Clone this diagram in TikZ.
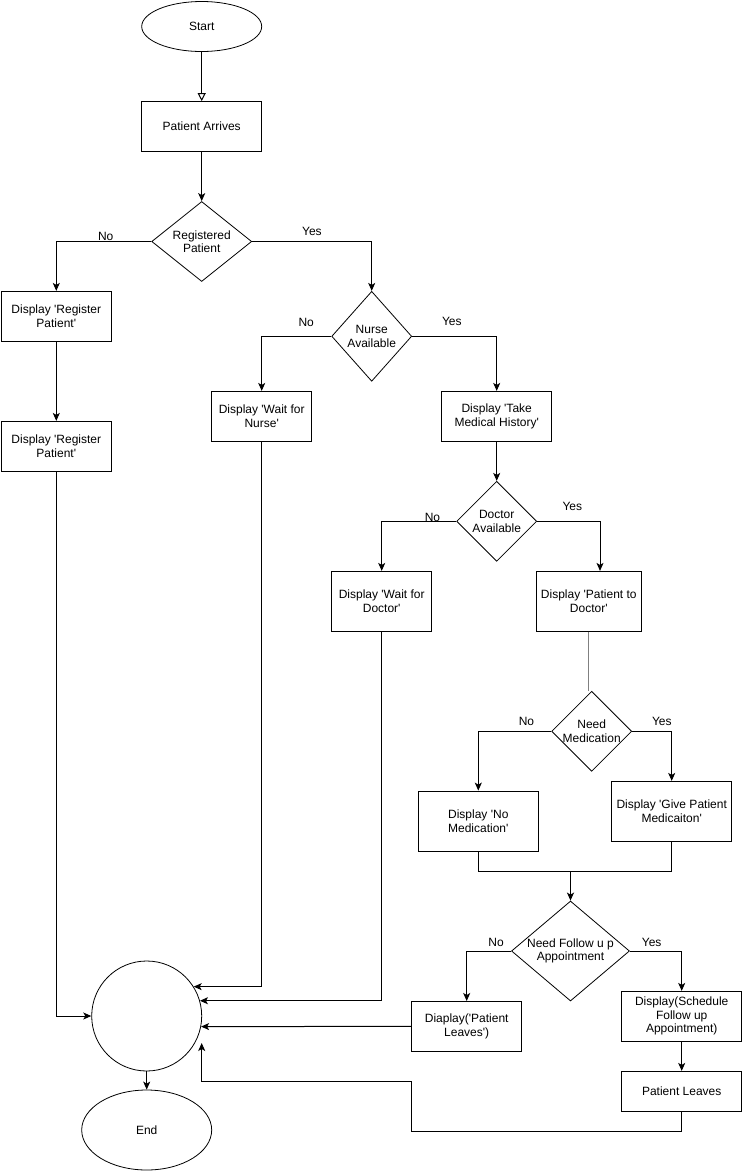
\documentclass[tikz,border=0pt]{standalone}
\usepackage{fontspec}
\setmainfont{Liberation Sans}[Ligatures=TeXOff]
\usepackage{tikz}
\usetikzlibrary{arrows.meta, shapes.geometric}

\begin{document}
\begin{tikzpicture}[
  x=1pt, y=-1pt,
  every node/.style={draw, line width=0.8pt, inner sep=0pt, align=center,
    font=\fontsize{12}{13.5}\selectfont},
  box/.style={rectangle, minimum width=120pt, minimum height=50pt},
  term/.style={ellipse, minimum width=120pt, minimum height=50pt},
  decide/.style={diamond, minimum width=80pt, minimum height=80pt},
  lbl/.style={draw=none},
  line width=1pt, ->, >={Stealth[length=8pt,width=7pt,inset=2pt]}
]
  \useasboundingbox (0,0) rectangle (743,1171);

  \node[term] (start) at (201.7,26.5) {Start};
  \node[box] (arrive) at (201.7,126.5) {Patient Arrives};
  \node[decide, aspect=1.25, minimum width=100pt] (reg) at (201.7,241.5) {Registered\\Patient};
  \node[box, minimum width=110pt] (reg1) at (56.3,316.3) {Display 'Register\\Patient'};
  \node[box, minimum width=110pt] (reg2) at (56.3,446.3) {Display 'Register\\Patient'};
  \node[decide, aspect=0.89, minimum height=90pt] (nurse) at (371.7,336.3) {Nurse\\Available};
  \node[box, minimum width=100pt] (nurseWait) at (261.7,416.3) {Display 'Wait for\\Nurse'};
  \node[box, minimum width=110pt] (history) at (496.7,416.3) {Display 'Take\\Medical History'};
  \node[decide] (doctor) at (496.7,521.3) {Doctor\\Available};
  \node[box, minimum width=100pt, minimum height=60pt] (docWait) at (381.7,601.3) {Display 'Wait for\\Doctor'};
  \node[box, minimum width=105pt, minimum height=60pt] (toDoc) at (588.8,601.3) {Display 'Patient to\\Doctor'};
  \node[decide, inner xsep=-8pt] (med) at (591.7,731.3) {Need\\Medication};
  \node[box, minimum height=60pt] (noMed) at (478.3,821) {Display 'No\\Medication'};
  \node[box, minimum height=60pt] (giveMed) at (671.7,811.3) {Display 'Give Patient\\Medicaiton'};
  \node[decide, aspect=1.18, minimum width=118pt, minimum height=100pt] (follow) at (570.5,951) {Need Follow u p\\Appointment};
  \node[box, minimum width=110pt] (leave1) at (466.7,1026.4) {Diaplay('Patient\\Leaves')};
  \node[box] (sched) at (681.7,1016.3) {Display(Schedule\\Follow up\\Appointment)};
  \node[box, minimum height=40pt] (pleave) at (681.7,1091.3) {Patient Leaves};
  \node[circle, minimum size=110pt] (circ) at (146.7,1016) {};
  \node[term, minimum width=130pt, minimum height=80pt] (endn) at (146.7,1130) {End};

  \coordinate (merge) at (570.5,871.7);
  \coordinate (loopA) at (411.7,1131);
  \coordinate (loopB) at (201.7,1081.7);
  \coordinate (loopEnd) at (201.7,1043);

  \draw[-{Triangle[open,length=8pt,width=8pt]}] (start) -- (arrive);
  \draw (arrive) -- (reg);
  \draw (reg.west) -| node[lbl, pos=0.24, above=0.7pt]{No} (reg1.north);
  \draw (reg.east) -| node[lbl, pos=0.25, above=5pt]{Yes} (nurse.north);
  \draw (reg1) -- (reg2);
  \draw (nurse.west) -| node[lbl, pos=0.18, above=9.5pt]{No} (nurseWait.north);
  \draw (nurse.east) -| node[lbl, pos=0.235, above=10pt]{Yes} (history.north);
  \draw (history) -- (doctor);
  \draw (doctor.west) -| node[lbl, pos=0.16, above=-0.5pt]{No} (docWait.north);
  \draw (doctor.east) -| node[lbl, pos=0.28, above=10pt]{Yes} ([xshift=11.2pt]toDoc.north);
  \draw[-, gray] (toDoc.south) -- (toDoc.south |- med.north);
  \draw (med.west) -| node[lbl, pos=0.17, above=5pt]{No} (noMed.north);
  \draw (med.east) -| node[lbl, pos=0.375, above=5pt]{Yes} (giveMed.north);
  \draw[-] (noMed.south) |- (merge);
  \draw[-] (giveMed.south) |- (merge);
  \draw[line width=1.8pt] (merge) -- (follow.north);
  \draw (follow.west) -| node[lbl, pos=0.17, above=4pt]{No} (leave1.north);
  \draw (follow.east) -| node[lbl, pos=0.21, above=4pt]{Yes} (sched.north);
  \draw (sched) -- (pleave);

  % all branches end in the circle
  \draw (reg2.south) |- (circ.west);
  \draw (nurseWait.south) |- (circ.32);
  \draw (docWait.south) |- (circ.16);
  \draw (leave1.west) -- (circ.-11);
  \draw (pleave.south) |- (loopA) |- (loopB) -- (loopEnd);
  \draw (circ) -- (endn);
\end{tikzpicture}
\end{document}
